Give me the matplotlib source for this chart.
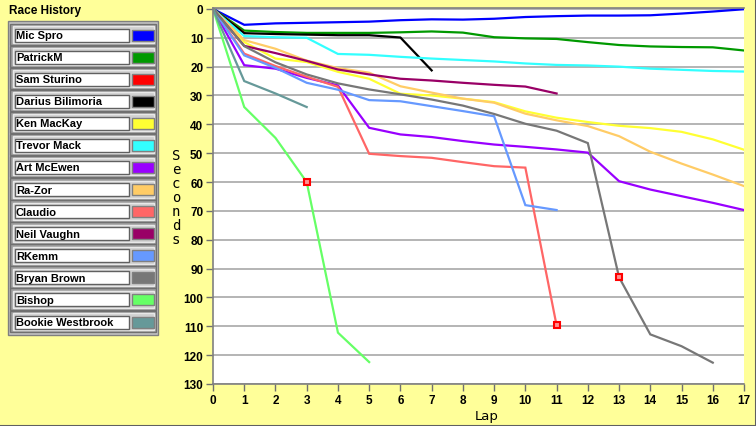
import numpy as np
import matplotlib
matplotlib.use("Agg")
import matplotlib.pyplot as plt
from matplotlib.patches import Rectangle

names = ["Mic Spro", "PatrickM", "Sam Sturino", "Darius Bilimoria", "Ken MacKay",
         "Trevor Mack", "Art McEwen", "Ra-Zor", "Claudio", "Neil Vaughn",
         "RKemm", "Bryan Brown", "Bishop", "Bookie Westbrook"]
colors = ["#0000FF", "#009900", "#FF0000", "#000000", "#FFFF33",
          "#33FFFF", "#9900FF", "#FFCC66", "#FF6666", "#990066",
          "#6699FF", "#777777", "#66FF66", "#669999"]

# seconds behind per lap (lap 0 = start)
mic_spro = [0, 5.5, 5.0, 4.8, 4.6, 4.4, 3.9, 3.6, 3.7, 3.4, 2.8, 2.5, 2.3, 2.3, 2.2, 1.6, 0.9, 0.1]
patrick_m = [0, 7.5, 8.0, 8.3, 8.3, 8.3, 8.1, 7.8, 8.2, 9.8, 10.2, 10.4, 11.5, 12.5, 13.0, 13.2, 13.3, 14.4]
sam_sturino = [0, 8.3]
darius = [0, 8.4, 8.7, 8.9, 9.1, 9.1, 9.9, 21.3]
ken_mackay = [0, 11.5, 17.2, 18.4, 21.8, 24.2, 29.4, 30.0, 31.1, 32.3, 35.5, 37.7, 39.2, 40.5, 41.3, 42.6, 45.2, 48.8]
trevor_mack = [0, 9.4, 9.8, 10.0, 15.6, 15.9, 16.6, 17.2, 17.7, 18.2, 18.9, 19.4, 19.6, 20.0, 20.7, 21.1, 21.5, 21.7]
art_mcewen = [0, 19.5, 20.7, 23.9, 26.5, 41.2, 43.5, 44.4, 45.8, 47.0, 47.8, 48.7, 49.8, 59.7, 62.6, 64.9, 67.2, 69.7]
ra_zor = [0, 10.8, 13.8, 17.9, 20.5, 22.1, 26.8, 29.0, 31.1, 32.5, 36.3, 38.6, 40.6, 44.1, 49.5, 53.6, 57.4, 61.4]
claudio = [0, 15.5, 19.8, 23.5, 27.0, 50.2, 51.0, 51.6, 53.1, 54.5, 55.0, 109.7]
neil_vaughn = [0, 12.8, 15.3, 18.0, 21.0, 22.7, 24.2, 24.8, 25.6, 26.3, 26.9, 29.3]
rkemm = [0, 16.1, 20.4, 25.6, 28.0, 31.6, 32.0, 33.7, 35.4, 37.2, 68.0, 69.7]
bryan_brown = [0, 12.9, 18.5, 22.7, 25.8, 27.9, 29.6, 31.4, 33.5, 36.4, 39.8, 42.2, 46.5, 93.0, 112.8, 116.9, 122.6]
bishop = [0, 34.0, 44.7, 60.0, 112.2, 122.4]
bookie = [0, 25.0, 29.3, 34.0]

series = [mic_spro, patrick_m, sam_sturino, darius, ken_mackay, trevor_mack,
          art_mcewen, ra_zor, claudio, neil_vaughn, rkemm, bryan_brown, bishop, bookie]

# red square flags: (driver index, lap)
flags = [(12, 3), (8, 11), (11, 13)]

W, H = 756, 427
bg = "#FFFF99"
fig = plt.figure(figsize=(W / 100, H / 100), dpi=100)
fig.patch.set_facecolor(bg)

# pixel overlay for the legend panel and loose labels
lg = fig.add_axes([0, 0, 1, 1])
lg.set_xlim(0, W)
lg.set_ylim(H, 0)
lg.axis("off")

ax = fig.add_axes([213 / W, 1 - 385 / H, (744 - 213) / W, (385 - 8.5) / H])
ax.set_facecolor("white")

for s, c in zip(series, colors):
    ax.plot(range(len(s)), s, color=c, lw=1.6, solid_joinstyle="miter")
for i, lap in flags:
    ax.plot(lap, series[i][lap], "s", ms=5, mfc="#FF9090", mec="#FF0000", mew=1.5, zorder=5)

ax.set_xlim(0, 17)
ax.set_ylim(130, -0.5)
ax.set_xticks(range(18))
ax.set_yticks(range(0, 131, 10))
ax.yaxis.grid(True, color="#A8A8A8", lw=1.2)
ax.set_axisbelow(True)
for lab in ax.get_xticklabels() + ax.get_yticklabels():
    lab.set_fontfamily("Liberation Sans")
    lab.set_fontweight("bold")
    lab.set_fontsize(8.5)
ax.tick_params(axis="both", direction="out", length=5, width=1, color="#707070", pad=2)
ax.spines["right"].set_visible(False)
for sp in ["left", "bottom", "top"]:
    ax.spines[sp].set_color("#808080")
    ax.spines[sp].set_linewidth(1.2)

# axis labels
lg.text(487, 417, "Lap", ha="center", va="center", fontsize=9.5, family="DejaVu Sans")
for k, ch in enumerate("Seconds"):
    lg.text(176, 156 + k * 14, ch, ha="center", va="center", fontsize=10, family="DejaVu Sans Mono")

# legend panel
lg.text(9, 11, "Race History", ha="left", va="center", fontsize=8.5,
        fontweight="bold", family="Liberation Sans")
lg.add_patch(Rectangle((8, 22), 150, 314, facecolor="#C4C4C4", edgecolor="#808080", lw=1))
for k, (n, c) in enumerate(zip(names, colors)):
    yc = 36 + k * 22.08
    lg.add_patch(Rectangle((10, yc - 11.5), 146, 21.5, facecolor="#A0A0A0", edgecolor="#707070", lw=1))
    lg.add_patch(Rectangle((12.5, yc - 9), 141.5, 17, facecolor="#D0D0D0", edgecolor="#E8E8E8", lw=1))
    lg.add_patch(Rectangle((15, yc - 6.5), 114, 13, facecolor="white", edgecolor="#606060", lw=1))
    lg.add_patch(Rectangle((131.5, yc - 5.5), 22.5, 11, facecolor=c, edgecolor="#808080", lw=1))
    lg.text(16, yc, n, ha="left", va="center", fontsize=8, fontweight="bold",
            family="Liberation Sans")

# frame edge lines bottom/right
lg.plot([0, W], [H - 0.5, H - 0.5], color="#606060", lw=1.5)
lg.plot([W - 0.5, W - 0.5], [0, H], color="#606060", lw=1.5)

fig.savefig("out.png", dpi=100, facecolor=bg)
